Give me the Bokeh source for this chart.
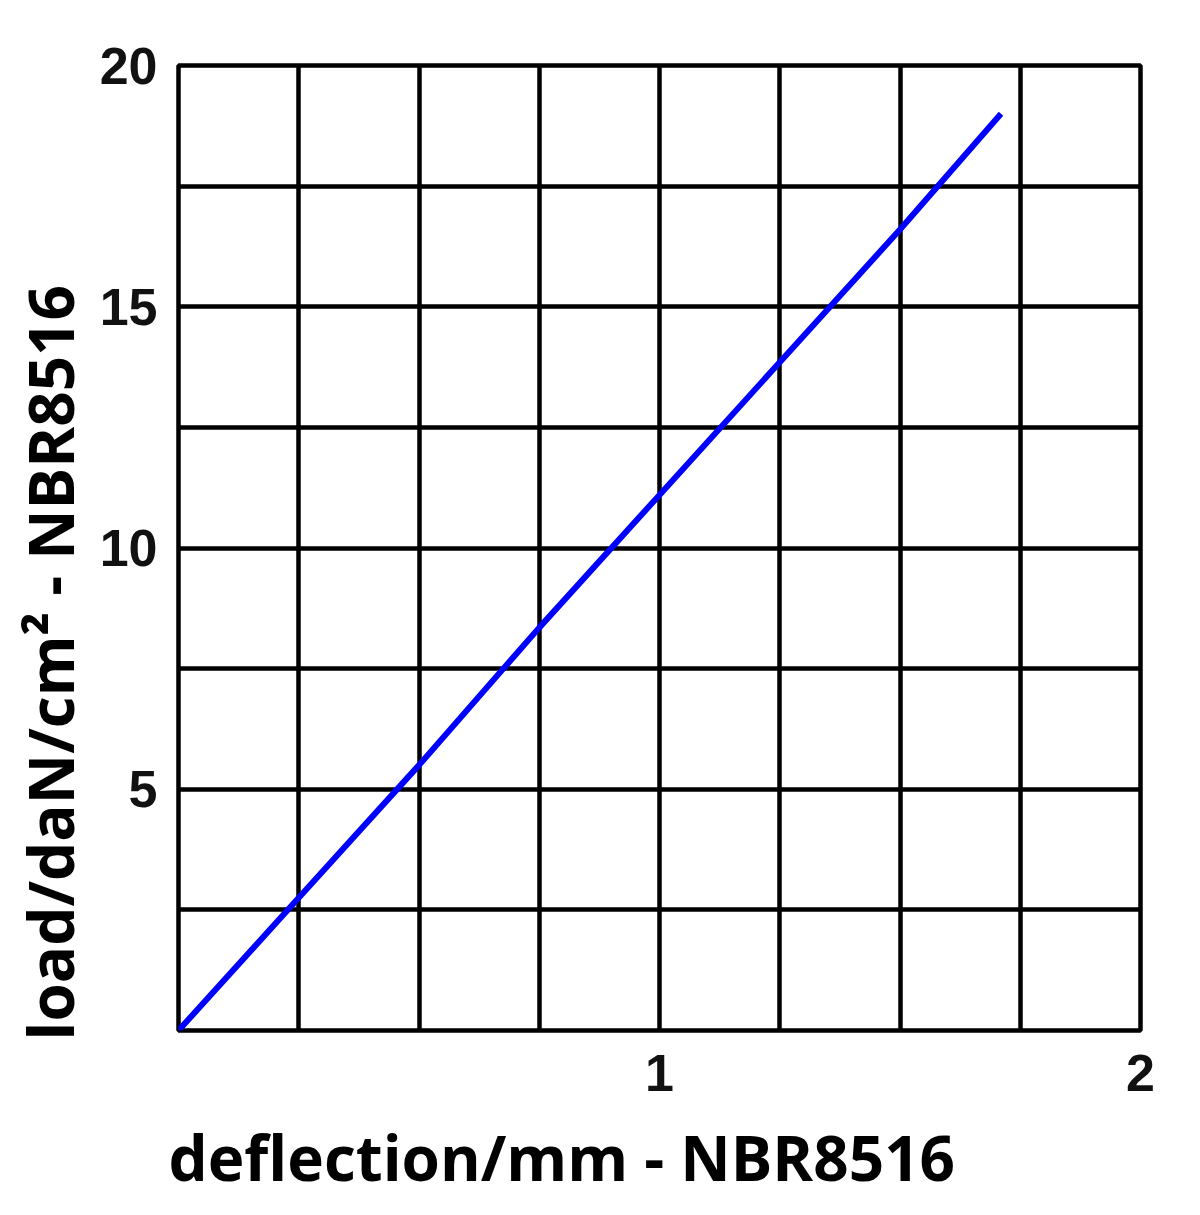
from bokeh.plotting import figure
from bokeh.models import FixedTicker, Range1d, Title
from bokeh.embed import file_html
from bokeh.resources import INLINE

# data
deflection = [0.0, 0.25, 0.5, 0.75, 1.0, 1.25, 1.5, 1.71]
load = [0.0, 2.75, 5.5, 8.35, 11.1, 13.85, 16.6, 19.0]

x_tick_values = [1, 2]
y_tick_values = [5, 10, 15, 20]
x_grid_values = [0.25, 0.5, 0.75, 1.0, 1.25, 1.5, 1.75]
y_grid_values = [2.5, 5, 7.5, 10, 12.5, 15, 17.5]

x_title = "deflection/mm - NBR8516"
y_title = "load/daN/cm\u00b2 - NBR8516"

p = figure(
    width=1174, height=1195,
    frame_width=962, frame_height=965,
    x_range=Range1d(0, 2), y_range=Range1d(0, 20),
    output_backend="svg", toolbar_location=None,
    min_border_left=170, min_border_top=65, min_border_right=40, min_border_bottom=5,
)
p.background_fill_color = "white"
p.border_fill_color = "white"
p.outline_line_color = "black"
p.outline_line_width = 4.5

for ax in (p.xaxis[0], p.yaxis[0]):
    ax.axis_line_color = None
    ax.major_tick_line_color = None
    ax.minor_tick_line_color = None
    ax.major_label_text_font = "Liberation Sans"
    ax.major_label_text_font_style = "bold"
    ax.major_label_text_font_size = "52px"
    ax.major_label_text_color = "#111111"

p.xaxis[0].ticker = FixedTicker(ticks=x_tick_values)
p.yaxis[0].ticker = FixedTicker(ticks=y_tick_values)
p.xaxis[0].major_label_standoff = 18
p.yaxis[0].major_label_standoff = 15

p.xgrid[0].ticker = FixedTicker(ticks=x_grid_values)
p.ygrid[0].ticker = FixedTicker(ticks=y_grid_values)
for g in (p.xgrid[0], p.ygrid[0]):
    g.grid_line_color = "black"
    g.grid_line_width = 4.5
    g.grid_line_alpha = 1.0

p.line(deflection, load, line_color="#0000ff", line_width=6)

xt = Title(text=x_title, align="left", offset=-10, text_font="Open Sans",
           text_font_size="62px", text_font_style="bold", text_color="black",
           standoff=39)
p.add_layout(xt, "below")
yt = Title(text=y_title, align="left", offset=-10, text_font="Open Sans",
           text_font_size="62px", text_font_style="bold", text_color="black",
           standoff=10)
p.add_layout(yt, "left")

open("out.html", "w").write(file_html(p, INLINE))
